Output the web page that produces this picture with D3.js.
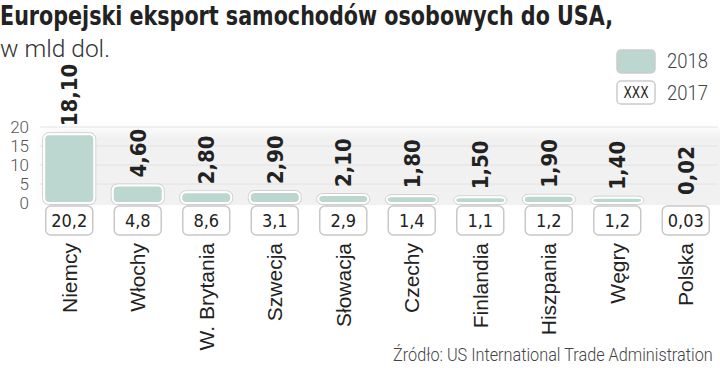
<!DOCTYPE html>
<html><head><meta charset="utf-8">
<script src="https://cdn.jsdelivr.net/npm/d3@7"></script>
<style>
html,body{margin:0;padding:0;background:#fff;}
svg{display:block;}
</style></head>
<body>
<svg id="chart" width="720" height="368"></svg>
<script>
const categories = ["Niemcy","Włochy","W. Brytania","Szwecja","Słowacja","Czechy","Finlandia","Hiszpania","Węgry","Polska"];
const values2018 = [18.10,4.60,2.80,2.90,2.10,1.80,1.50,1.90,1.40,0.02];
const labels2018 = ["18,10","4,60","2,80","2,90","2,10","1,80","1,50","1,90","1,40","0,02"];
const labels2017 = ["20,2","4,8","8,6","3,1","2,9","1,4","1,1","1,2","1,2","0,03"];
const yTicks = [0,5,10,15,20];
const title = "Europejski eksport samochodów osobowych do USA,";
const subtitle = "w mld dol.";
const source = "Źródło: US International Trade Administration";
const legendItems = ["2018","2017"];

const svg = d3.select("#chart");
const barColor = "#bcd7cf";
const condBold = "'DejaVu Sans Condensed','DejaVu Sans',sans-serif";
const light = "Roboto, 'Open Sans', sans-serif";

const x = d3.scaleBand().domain(categories).range([35,720]).paddingInner(0.27).paddingOuter(0.135);
const y = d3.scaleLinear().domain([0,20]).range([203,127]);

const defs = svg.append("defs");
const grad = defs.append("linearGradient").attr("id","bgGrad").attr("x1","0").attr("x2","1").attr("y1","0").attr("y2","0");
grad.append("stop").attr("offset","0").attr("stop-color","#ffffff");
grad.append("stop").attr("offset","0.04").attr("stop-color","#f1f1f1");
grad.append("stop").attr("offset","1").attr("stop-color","#f1f1f1");
const grad2 = defs.append("linearGradient").attr("id","bgGrad2").attr("x1","0").attr("x2","0").attr("y1","0").attr("y2","1");
grad2.append("stop").attr("offset","0").attr("stop-color","#fff").attr("stop-opacity",0.8);
grad2.append("stop").attr("offset","0.15").attr("stop-color","#fff").attr("stop-opacity",0);

// helper: horizontally scale a text to a target width
function fitWidth(sel, x0, y0, target) {
  const w = sel.node().getComputedTextLength();
  sel.attr("transform", `translate(${x0},${y0}) scale(${target / w},1)`);
}

// Title
svg.append("text").attr("x",0).attr("y",25).text(title)
  .attr("font-family",condBold).attr("font-weight","bold").attr("font-size",26).attr("fill","#222")
  .attr("textLength",613).attr("lengthAdjust","spacingAndGlyphs");
svg.append("text").attr("x",0).attr("y",57).text(subtitle)
  .attr("font-family",light).attr("font-weight",300).attr("font-size",23).attr("fill","#333")
  .attr("textLength",110).attr("lengthAdjust","spacingAndGlyphs");

// Background panel
svg.append("rect").attr("x",35).attr("y",y(20)).attr("width",700).attr("height",y(0)-y(20)+2)
  .attr("rx",10).attr("fill","url(#bgGrad)");
svg.append("rect").attr("x",35).attr("y",y(20)).attr("width",700).attr("height",y(0)-y(20)+2)
  .attr("rx",10).attr("fill","url(#bgGrad2)");

// gridlines
svg.append("g").selectAll("line").data(yTicks.filter(d=>d>0)).join("line")
  .attr("x1",40).attr("x2",718).attr("y1",d=>y(d)).attr("y2",d=>y(d))
  .attr("stroke","#e2e2e2").attr("stroke-width",1);

// Y axis
const yAxis = svg.append("g").attr("transform","translate(29,0)")
  .call(d3.axisLeft(y).tickValues(yTicks).tickSize(0).tickPadding(0).tickFormat(d3.format("d")));
yAxis.select(".domain").remove();
yAxis.selectAll("text").attr("font-family",light).attr("font-weight",300).attr("font-size",17).attr("fill","#555");

// Bars
const bw = x.bandwidth();
const bars = svg.append("g");
bars.selectAll("rect.sh").data(categories).join("rect").attr("class","sh")
  .filter((d,i)=>values2018[i]>0.5)
  .attr("x",d=>x(d)-1.5).attr("width",bw+3)
  .attr("y",(d,i)=>y(values2018[i])-1.5).attr("height",(d,i)=>y(0)-y(values2018[i])+3)
  .attr("rx",6).attr("fill","none").attr("stroke","#cfcfcf").attr("stroke-width",1);
bars.selectAll("rect.bar").data(categories).join("rect").attr("class","bar")
  .filter((d,i)=>values2018[i]>0.5)
  .attr("x",d=>x(d)).attr("width",bw)
  .attr("y",(d,i)=>y(values2018[i])).attr("height",(d,i)=>y(0)-y(values2018[i]))
  .attr("rx",5).attr("fill",barColor).attr("stroke","#fff").attr("stroke-width",2);

// Value labels 2018
svg.append("g").selectAll("text").data(categories).join("text")
  .attr("transform",(d,i)=>`translate(${x(d)+bw/2},${y(values2018[i])-8}) rotate(-90)`)
  .attr("dy","0.37em").attr("text-anchor","start")
  .attr("font-family",condBold).attr("font-weight","bold").attr("font-size",22).attr("fill","#222")
  .text((d,i)=>labels2018[i]);

// 2017 boxes
const boxW = 47, boxTop = 206, boxH = 29;
const boxes = svg.append("g");
boxes.selectAll("rect").data(categories).join("rect")
  .attr("x",d=>x(d)+bw/2-boxW/2).attr("y",boxTop).attr("width",boxW).attr("height",boxH)
  .attr("rx",5).attr("fill","#fff").attr("stroke","#c8c8c8").attr("stroke-width",1.5);
boxes.selectAll("text").data(categories).join("text")
  .attr("x",d=>x(d)+bw/2).attr("y",boxTop+boxH/2).attr("dy","0.36em").attr("text-anchor","middle")
  .attr("font-family","'DejaVu Sans Condensed','DejaVu Sans',sans-serif").attr("font-size",18).attr("fill","#222")
  .text((d,i)=>labels2017[i]);

// Category labels
svg.append("g").selectAll("text").data(categories).join("text")
  .attr("transform",d=>`translate(${x(d)+bw/2},243) rotate(-90)`)
  .attr("dy","0.36em").attr("text-anchor","end")
  .attr("font-family","'Liberation Sans', Arial, sans-serif").attr("font-size",21).attr("fill","#222")
  .text(d=>d);

// Legend
const lg = svg.append("g");
lg.append("rect").attr("x",617).attr("y",50).attr("width",38).attr("height",23).attr("rx",4)
  .attr("fill",barColor).attr("stroke","#ccc").attr("stroke-width",1.5);
lg.append("rect").attr("x",617).attr("y",81).attr("width",38).attr("height",23).attr("rx",4)
  .attr("fill","#fff").attr("stroke","#ccc").attr("stroke-width",1.5);
lg.append("text").attr("x",636).attr("y",92.5).attr("dy","0.36em").attr("text-anchor","middle")
  .attr("font-family","'DejaVu Sans Condensed',sans-serif").attr("font-size",16).attr("fill","#222")
  .attr("textLength",25).attr("lengthAdjust","spacingAndGlyphs").text("XXX");
lg.selectAll("text.lt").data(legendItems).join("text").attr("class","lt")
  .attr("x",667).attr("y",(d,i)=>68+i*32)
  .attr("font-family",light).attr("font-weight",300).attr("font-size",20).attr("fill","#444")
  .attr("textLength",41).attr("lengthAdjust","spacingAndGlyphs").text(d=>d);

// Source
const src = svg.append("text").attr("x",0).attr("y",0).text(source)
  .attr("font-family",light).attr("font-weight",300).attr("font-size",19).attr("fill","#444");
fitWidth(src, 393, 361, 320);
</script>
</body></html>
